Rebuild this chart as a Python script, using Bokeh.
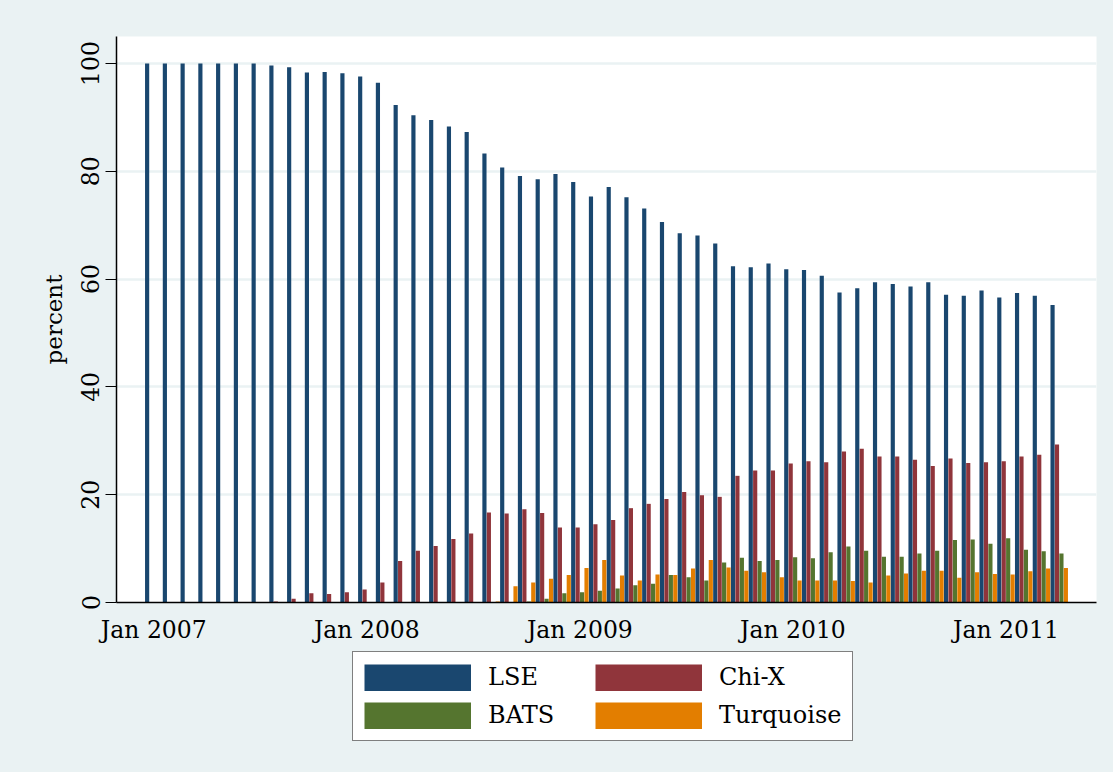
import pandas as pd
from bokeh.plotting import figure
from bokeh.layouts import column
from bokeh.models import Legend, LegendItem, FixedTicker, Range1d
from bokeh.embed import file_html
from bokeh.resources import INLINE

# Monthly market shares (percent), Jan 2007 - Apr 2011
months = pd.date_range("2007-01-01", periods=52, freq="MS").strftime("%b %Y").tolist()

lse = [100, 100, 100, 100, 100, 100, 100, 99.6, 99.3, 98.3, 98.4, 98.2,
       97.6, 96.4, 92.3, 90.4, 89.5, 88.3, 87.3, 83.3, 80.7, 79.1, 78.5, 79.5,
       78.0, 75.3, 77.1, 75.2, 73.1, 70.6, 68.5, 68.1, 66.6, 62.4, 62.2, 62.9,
       61.8, 61.7, 60.6, 57.5, 58.3, 59.4, 59.1, 58.6, 59.4, 57.1, 56.9, 57.9,
       56.6, 57.4, 56.9, 55.2]
chix = [0, 0, 0, 0, 0, 0, 0, 0.2, 0.7, 1.7, 1.6, 1.9,
        2.4, 3.7, 7.7, 9.6, 10.5, 11.8, 12.8, 16.7, 16.5, 17.3, 16.6, 13.9,
        13.9, 14.5, 15.3, 17.5, 18.3, 19.2, 20.5, 19.9, 19.6, 23.5, 24.5, 24.5,
        25.8, 26.2, 26.0, 28.0, 28.5, 27.1, 27.1, 26.5, 25.3, 26.7, 25.9, 26.0,
        26.2, 27.1, 27.4, 29.3]
bats = [0, 0, 0, 0, 0, 0, 0, 0, 0, 0, 0, 0,
        0, 0, 0, 0, 0, 0, 0, 0, 0, 0.2, 0.7, 1.7,
        1.9, 2.2, 2.6, 3.2, 3.5, 5.1, 4.7, 4.1, 7.4, 8.3, 7.7, 7.9,
        8.4, 8.2, 9.3, 10.4, 9.6, 8.5, 8.5, 9.1, 9.6, 11.6, 11.7, 10.9,
        11.9, 9.8, 9.5, 9.1]
turq = [0, 0, 0, 0, 0, 0, 0, 0, 0, 0, 0, 0,
        0, 0, 0, 0, 0, 0, 0, 0.2, 3.0, 3.7, 4.4, 5.1,
        6.4, 7.9, 5.0, 4.1, 5.2, 5.1, 6.3, 7.9, 6.5, 5.9, 5.6, 4.7,
        4.1, 4.1, 4.1, 4.0, 3.7, 5.0, 5.4, 5.9, 5.9, 4.6, 5.6, 5.3,
        5.2, 5.8, 6.3, 6.4]

series_names = ["LSE", "Chi-X", "BATS", "Turquoise"]
series_values = [lse, chix, bats, turq]
colors = ["#1A476F", "#90353B", "#55752F", "#E37E00"]

y_ticks = [0, 20, 40, 60, 80, 100]
x_tick_idx = [i for i, m in enumerate(months) if m.startswith("Jan")]

FONT = "DejaVu Serif"
BG = "#EAF2F3"
W = 1113

# ---------------- main chart ----------------
p = figure(width=W, height=650, output_backend="svg", toolbar_location=None,
           x_range=Range1d(-2.1, 53.1), y_range=Range1d(0, 105),
           min_border_left=116, min_border_right=17, min_border_top=36,
           min_border_bottom=48)
p.background_fill_color = "white"
p.border_fill_color = BG
p.outline_line_color = None

x = list(range(len(months)))
offsets = [-0.375, -0.125, 0.125, 0.375]
for vals, off, col in zip(series_values, offsets, colors):
    p.vbar(x=[i + off for i in x], top=vals, width=0.235, bottom=0,
           fill_color=col, line_color=None)

p.xaxis.ticker = FixedTicker(ticks=x_tick_idx)
p.xaxis.major_label_overrides = {i: months[i] for i in x_tick_idx}
p.xaxis.major_tick_out = 0
p.xaxis.major_tick_in = 0
p.xaxis.minor_tick_out = 0
p.xaxis.minor_tick_in = 0
p.xaxis.major_label_standoff = 13
p.xaxis.major_label_text_font = FONT
p.xaxis.major_label_text_font_size = "23.5px"
p.xaxis.major_label_text_color = "black"
p.xaxis.axis_line_color = "black"
p.xaxis.axis_line_width = 1.5

p.yaxis.ticker = FixedTicker(ticks=y_ticks)
p.yaxis.major_tick_out = 11
p.yaxis.major_tick_in = 0
p.yaxis.minor_tick_out = 0
p.yaxis.minor_tick_in = 0
p.yaxis.major_tick_line_color = "black"
p.yaxis.major_tick_line_width = 1.2
p.yaxis.major_label_orientation = "vertical"
p.yaxis.major_label_standoff = 6
p.yaxis.major_label_text_font = FONT
p.yaxis.major_label_text_font_size = "23.5px"
p.yaxis.major_label_text_color = "black"
p.yaxis.axis_line_color = "black"
p.yaxis.axis_line_width = 1.5
p.yaxis.axis_label = "percent"
p.yaxis.axis_label_text_font = FONT
p.yaxis.axis_label_text_font_size = "23px"
p.yaxis.axis_label_text_font_style = "normal"
p.yaxis.axis_label_text_color = "black"
p.yaxis.axis_label_standoff = 12

p.xgrid.visible = False
p.ygrid.ticker = FixedTicker(ticks=y_ticks[1:])
p.ygrid.grid_line_color = BG
p.ygrid.grid_line_width = 2.5

# ---------------- legend strip ----------------
p2 = figure(width=W, height=122, output_backend="svg", toolbar_location=None,
            x_range=Range1d(0, 1), y_range=Range1d(0, 1),
            x_axis_type=None, y_axis_type=None,
            min_border=0, min_border_left=0, min_border_right=0,
            min_border_top=0, min_border_bottom=0)
p2.background_fill_color = BG
p2.background_fill_alpha = 0
p2.border_fill_color = BG
p2.border_fill_alpha = 0
p2.outline_line_color = None
p2.grid.visible = False

nan = float("nan")
keys = []
for col in colors:
    keys.append(p2.line(x=[nan], y=[nan], line_color=col, line_width=27, line_cap="butt"))

legend = Legend(
    items=[LegendItem(label=n, renderers=[r]) for n, r in zip(series_names, keys)],
    location=(236, 31), orientation="horizontal", ncols=2,
    glyph_width=107, glyph_height=27, label_standoff=17, label_width=97,
    label_height=27, spacing=10, padding=11, margin=0,
    label_text_font=FONT, label_text_font_size="24px", label_text_color="black",
    border_line_color="black", border_line_width=1,
    background_fill_color="white", background_fill_alpha=1.0,
)
p2.add_layout(legend, "center")

layout = column(p, p2, spacing=0, styles={"background-color": BG})
open("out.html", "w").write(file_html(layout, INLINE))
